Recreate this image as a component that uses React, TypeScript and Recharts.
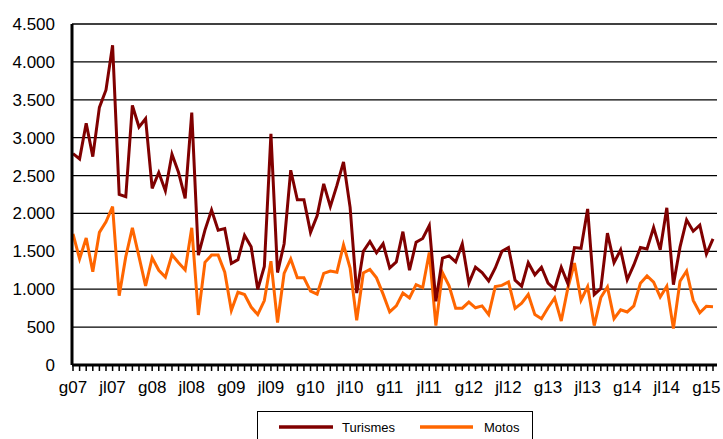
import React from 'react';
import { LineChart, Line, XAxis, YAxis, CartesianGrid, Legend } from 'recharts';

// Catalan month abbreviations, Jan 2007 .. Feb 2015
const monthAbbr = ['g', 'f', 'mç', 'ab', 'mg', 'jn', 'jl', 'ag', 's', 'o', 'n', 'd'];
const years = ['07', '08', '09', '10', '11', '12', '13', '14', '15'];
const yTicks = [0, 500, 1000, 1500, 2000, 2500, 3000, 3500, 4000, 4500];

const turismes = [
  2790, 2720, 3190, 2750, 3400, 3630, 4220, 2250, 2220, 3425,
  3140, 3250, 2330, 2540, 2300, 2780, 2540, 2200, 3330, 1450,
  1780, 2045, 1780, 1800, 1340, 1390, 1710, 1560, 1000, 1300,
  3050, 1220, 1600, 2570, 2180, 2180, 1750, 1970, 2390, 2090,
  2370, 2680, 2080, 950, 1500, 1630, 1480, 1600, 1280, 1360,
  1760, 1250, 1620, 1670, 1840, 840, 1410, 1440, 1360, 1600,
  1080, 1290, 1220, 1110, 1280, 1500, 1550, 1120, 1040, 1350,
  1190, 1290, 1080, 1000, 1290, 1075, 1550, 1540, 2060, 930,
  1010, 1740, 1350, 1520, 1125, 1320, 1550, 1530, 1815, 1520,
  2075, 1060, 1555, 1915, 1765, 1845, 1465, 1665,
];

const motos = [
  1730, 1400, 1675, 1230, 1750, 1890, 2090, 915, 1430, 1810,
  1430, 1045, 1415, 1250, 1160, 1455, 1350, 1255, 1810, 660,
  1355, 1450, 1450, 1225, 720, 960, 930, 765, 665, 850,
  1370, 560, 1210, 1400, 1150, 1150, 975, 935, 1210, 1240,
  1225, 1585, 1280, 590, 1215, 1260, 1150, 935, 700, 780,
  950, 885, 1060, 1020, 1485, 520, 1220, 1045, 750, 750,
  830, 755, 780, 665, 1035, 1050, 1095, 748, 815, 930,
  665, 610, 755, 885, 580, 1015, 1345, 855, 1035, 520,
  890, 1030, 612, 728, 700, 780, 1080, 1175, 1095, 897,
  1040, 480, 1105, 1240, 853, 690, 775, 770,
];

const data = turismes.map((t, i) => ({
  mes: monthAbbr[i % 12] + years[Math.floor(i / 12)],
  turismes: t,
  motos: motos[i],
}));

const RED = '#800000';
const ORANGE = '#ff6600';
const FONT = '"Liberation Sans", Arial, sans-serif';

const fmtThousands = (v: number) => v.toLocaleString('de-DE');
const showLabel = (v: string) => (/^(g|jl)\d\d$/.test(v) ? v : '');

const LegendBox = () => (
  <div style={{ width: 276, height: 34, border: '1px solid #000', boxSizing: 'border-box', background: '#fff' }}>
    <svg width={274} height={32} style={{ display: 'block' }}>
      <line x1={21} y1={15} x2={75} y2={15} stroke={RED} strokeWidth={3.5} />
      <text x={84} y={20} fontSize={13} fontFamily={FONT} fill="#000">Turismes</text>
      <line x1={162} y1={15} x2={215} y2={15} stroke={ORANGE} strokeWidth={3.5} />
      <text x={226} y={20} fontSize={13} fontFamily={FONT} fill="#000">Motos</text>
    </svg>
  </div>
);

export default function App() {
  return (
    <div style={{ position: 'absolute', left: 0, top: 0, width: 723, height: 439, background: '#fff', fontFamily: FONT, overflow: 'hidden' }}>
      <LineChart width={723} height={439} data={data} margin={{ top: 24, right: 6, left: 0, bottom: 0 }}>
        <CartesianGrid vertical={false} stroke="#000" strokeWidth={1.3} />
        <XAxis
          dataKey="mes"
          interval={0}
          padding={{ left: 1, right: 4 }}
          tickFormatter={showLabel}
          tickSize={6}
          tickMargin={10}
          tickLine={{ stroke: '#000', strokeWidth: 1.5 }}
          axisLine={{ stroke: '#000', strokeWidth: 3 }}
          tick={{ fill: '#000', fontSize: 17, fontFamily: FONT }}
          height={74}
        />
        <YAxis
          domain={[0, 4500]}
          ticks={yTicks}
          tickFormatter={fmtThousands}
          width={72}
          tickSize={0}
          tickMargin={17}
          tickLine={false}
          axisLine={{ stroke: '#000', strokeWidth: 3 }}
          tick={{ fill: '#000', fontSize: 17, fontFamily: FONT }}
        />
        <Line type="linear" dataKey="motos" name="Motos" stroke={ORANGE} strokeWidth={3} dot={false} isAnimationActive={false} />
        <Line type="linear" dataKey="turismes" name="Turismes" stroke={RED} strokeWidth={3} dot={false} isAnimationActive={false} />
        <Legend
          layout="horizontal"
          verticalAlign="middle"
          align="center"
          content={<LegendBox />}
          wrapperStyle={{ position: 'absolute', left: 257, top: 411, width: 276, height: 34, bottom: 'auto' }}
        />
      </LineChart>
    </div>
  );
}
